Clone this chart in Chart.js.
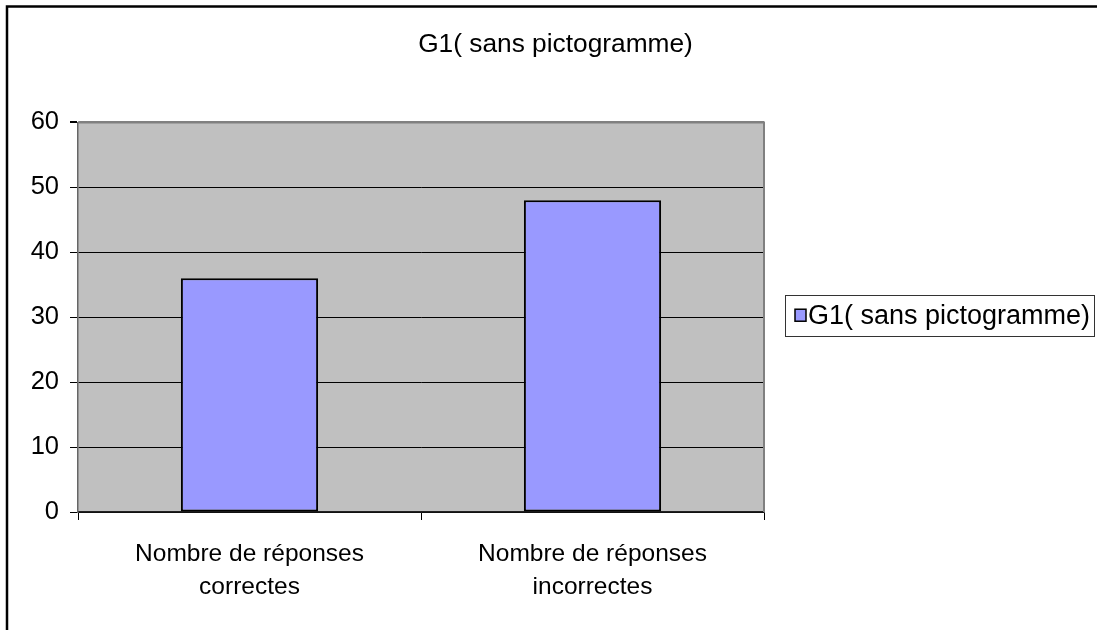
<!DOCTYPE html>
<html>
<head>
<meta charset="utf-8">
<script src="https://cdn.jsdelivr.net/npm/chart.js@4/dist/chart.umd.min.js"></script>
<style>
  html, body { margin: 0; padding: 0; background: #fff; }
  #wrap { width: 1097px; height: 630px; }
</style>
</head>
<body>
<div id="wrap"><canvas id="graficoResultado" width="1097" height="630"></canvas></div>
<script>
const titre = 'G1( sans pictogramme)';
const categories = [['Nombre de réponses', 'correctes'], ['Nombre de réponses', 'incorrectes']];
const valeurs = [36, 48];
const ticksY = [0, 10, 20, 30, 40, 50, 60];

const police = '"Liberation Sans", Arial, sans-serif';
const couleurBarre = '#9999FF';

// fond gris de la zone de tracé + cadre de la page
const fondPlugin = {
  id: 'fond',
  beforeDraw(chart) {
    const { ctx, chartArea: a } = chart;
    ctx.save();
    ctx.fillStyle = '#fff';
    ctx.fillRect(0, 0, chart.width, chart.height);
    ctx.fillStyle = '#C0C0C0';
    ctx.fillRect(a.left, a.top, a.right - a.left, a.bottom - a.top);
    ctx.strokeStyle = '#000';
    ctx.lineWidth = 2.5;
    ctx.beginPath();
    ctx.moveTo(7, chart.height);
    ctx.lineTo(7, 6.5);
    ctx.lineTo(chart.width, 6.5);
    ctx.stroke();
    ctx.restore();
  },
  beforeDatasetsDraw(chart) {
    const { ctx, chartArea: a } = chart;
    ctx.save();
    ctx.strokeStyle = '#808080';
    ctx.lineWidth = 2;
    ctx.beginPath();
    ctx.moveTo(a.left, a.top);
    ctx.lineTo(a.right, a.top);
    ctx.lineTo(a.right, a.bottom);
    ctx.stroke();
    ctx.restore();
  }
};

// légende encadrée à droite
const legendePlugin = {
  id: 'legendeCadre',
  afterDraw(chart) {
    const { ctx, chartArea: a } = chart;
    const ds = chart.data.datasets[0];
    const cy = (a.top + a.bottom) / 2;
    const x0 = a.right + 21;
    ctx.save();
    ctx.strokeStyle = '#333';
    ctx.lineWidth = 1;
    ctx.strokeRect(x0 + 0.5, Math.round(cy - 22) + 0.5, 309, 41);
    ctx.fillStyle = ds.backgroundColor;
    ctx.fillRect(x0 + 10, cy - 8, 11, 12);
    ctx.strokeStyle = '#000';
    ctx.lineWidth = 1.5;
    ctx.strokeRect(x0 + 10, cy - 8, 11, 12);
    ctx.fillStyle = '#000';
    ctx.font = '27px ' + police;
    ctx.textBaseline = 'middle';
    ctx.textAlign = 'left';
    ctx.fillText(ds.label, x0 + 23, cy - 1);
    ctx.restore();
  }
};

const canvas = document.getElementById('graficoResultado');
const ctx = canvas.getContext('2d');

new Chart(ctx, {
  type: 'bar',
  data: {
    labels: categories,
    datasets: [{
      label: titre,
      data: valeurs,
      backgroundColor: couleurBarre,
      borderColor: '#000',
      borderWidth: 2,
      borderSkipped: false,
      categoryPercentage: 1,
      barPercentage: 0.4
    }]
  },
  options: {
    responsive: false,
    animation: false,
    layout: { padding: { left: 14, right: 0, top: 0, bottom: 0 } },
    plugins: {
      legend: { display: false },
      tooltip: { enabled: false },
      title: {
        display: true,
        text: titre,
        color: '#000',
        font: { family: police, size: 26.3, weight: 'normal', lineHeight: 1.2 },
        padding: { top: 29.4, bottom: 61.5 }
      }
    },
    scales: {
      x: {
        grid: {
          display: true,
          drawOnChartArea: false,
          drawTicks: true,
          tickLength: 8,
          tickColor: '#000',
          offset: true
        },
        border: { display: true, color: '#222', width: 1.5 },
        ticks: {
          color: '#000',
          padding: 17.5,
          font: { family: police, size: 24.5, lineHeight: 1.35 },
          maxRotation: 0,
          autoSkip: false
        },
        afterFit: (scale) => { scale.height = 118; }
      },
      y: {
        min: 0,
        max: 60,
        afterBuildTicks: (scale) => { scale.ticks = ticksY.map(v => ({ value: v })); },
        grid: {
          color: (c) => (c.tick && c.tick.value === 60) ? '#808080' : '#000',
          lineWidth: (c) => (c.tick && c.tick.value === 60) ? 2 : 1,
          tickLength: 8,
          tickColor: '#000'
        },
        border: { display: true, color: '#666', width: 1.5 },
        ticks: {
          color: '#000',
          padding: 11,
          font: { family: police, size: 25.5 }
        },
        afterFit: (scale) => { scale.width = 64; }
      },
      // espace réservé à droite pour la légende (le titre reste centré sur la page)
      espaceLegende: {
        type: 'linear',
        position: 'right',
        display: true,
        grid: { display: false },
        border: { display: false },
        ticks: { display: false },
        afterFit: (scale) => { scale.width = 333; }
      }
    }
  },
  plugins: [fondPlugin, legendePlugin]
});
</script>
</body>
</html>
